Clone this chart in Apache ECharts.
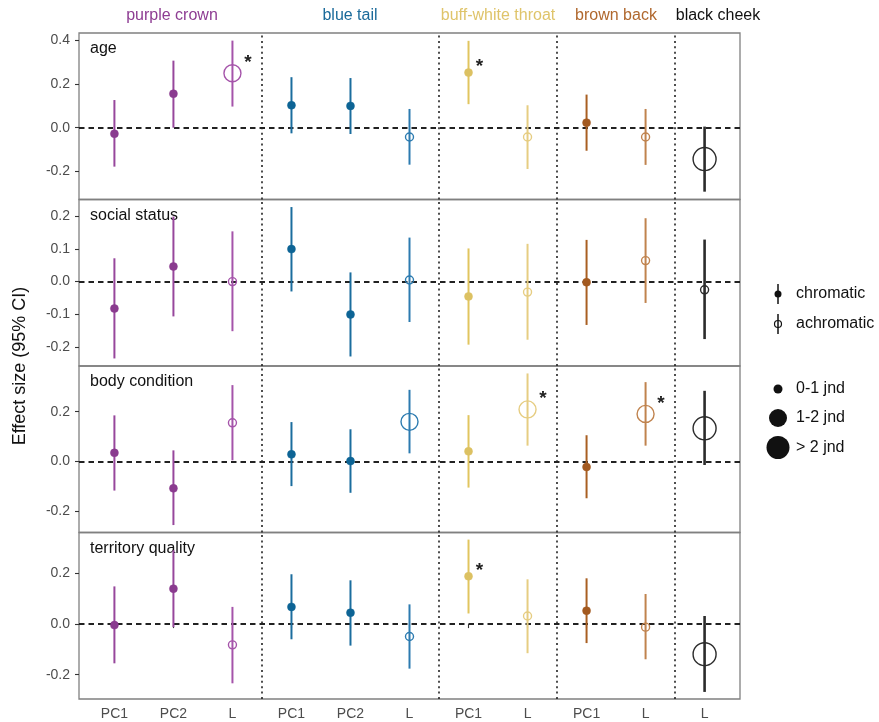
<!DOCTYPE html>
<html><head><meta charset="utf-8">
<script src="https://cdn.jsdelivr.net/npm/echarts@6/dist/echarts.min.js"></script>
<style>html,body{margin:0;padding:0;background:#fff}#c{width:879px;height:722px}</style>
</head><body><div id="c"></div>
<script>
// ---- data ----
const categories = ['PC1','PC2','L','PC1','PC2','L','PC1','L','PC1','L','L'];
const catGroup   = [0,0,0,1,1,1,2,2,3,3,4];
const achromatic = [0,0,1,0,0,1,0,1,0,1,1];
const groupNames = ['purple crown','blue tail','buff-white throat','brown back','black cheek'];
const panelNames = ['age','social status','body condition','territory quality'];
const yTicks = [[-0.2,0,0.2,0.4],[-0.2,-0.1,0,0.1,0.2],[-0.2,0,0.2],[-0.2,0,0.2]];

const ageEst = [-0.028,0.156,0.250,0.103,0.100,-0.043,0.253,-0.043,0.023,-0.043,-0.144];
const ageLo  = [-0.179,0.000,0.097,-0.026,-0.029,-0.170,0.108,-0.190,-0.106,-0.171,-0.294];
const ageHi  = [0.127,0.308,0.400,0.232,0.228,0.086,0.399,0.103,0.152,0.086,0.005];
const ageJnd = [0,0,1,0,0,0,0,0,0,0,2];
const ageSig = [0,0,1,0,0,0,1,0,0,0,0];

const socEst = [-0.082,0.046,0.000,0.099,-0.100,0.005,-0.045,-0.032,-0.002,0.064,-0.025];
const socLo  = [-0.234,-0.106,-0.151,-0.030,-0.228,-0.123,-0.192,-0.177,-0.132,-0.065,-0.175];
const socHi  = [0.071,0.198,0.153,0.227,0.028,0.134,0.101,0.115,0.127,0.193,0.128];
const socJnd = [0,0,0,0,0,0,0,0,0,0,0];
const socSig = [0,0,0,0,0,0,0,0,0,0,0];

const bodEst = [0.034,-0.109,0.155,0.028,0.001,0.159,0.040,0.209,-0.023,0.191,0.133];
const bodLo  = [-0.118,-0.257,0.004,-0.100,-0.127,0.032,-0.106,0.063,-0.149,0.063,-0.015];
const bodHi  = [0.185,0.044,0.307,0.158,0.129,0.288,0.186,0.354,0.105,0.319,0.284];
const bodJnd = [0,0,0,0,0,1,0,1,0,1,2];
const bodSig = [0,0,0,0,0,0,0,1,0,1,0];

const terEst = [-0.004,0.140,-0.082,0.068,0.045,-0.049,0.189,0.032,0.053,-0.012,-0.119];
const terLo  = [-0.155,-0.012,-0.234,-0.060,-0.085,-0.176,0.042,-0.115,-0.075,-0.139,-0.268];
const terHi  = [0.149,0.292,0.068,0.197,0.173,0.078,0.334,0.177,0.181,0.119,0.032];
const terJnd = [0,0,0,0,0,0,0,0,0,0,2];
const terSig = [0,0,0,0,0,0,1,0,0,0,0];

const separators = [3.5,6.5,8.5,10.5];
const jndLabels = ['0-1 jnd','1-2 jnd','> 2 jnd'];

// ---- styles ----
const pointColor = ['#8a3b8f','#0d6495','#dcc162','#a3591f','#262626'];
const lineColor  = ['#97479c','#1b6d9e','#e1c55f','#a95f22','#2b2b2b'];
const achColor   = ['#a554aa','#2c7bb0','#e6cd82','#c0834e','#2b2b2b'];
const stripColor = ['#8e3d93','#1a6a9a','#dfc46a','#b0682e','#111111'];
const radius = [4,8.5,11.5];
const FONT = '"Liberation Sans", Arial, sans-serif';

const panels = [
  {est:ageEst,lo:ageLo,hi:ageHi,jnd:ageJnd,sig:ageSig,min:-0.33,max:0.435},
  {est:socEst,lo:socLo,hi:socHi,jnd:socJnd,sig:socSig,min:-0.257,max:0.25},
  {est:bodEst,lo:bodLo,hi:bodHi,jnd:bodJnd,sig:bodSig,min:-0.287,max:0.384},
  {est:terEst,lo:terLo,hi:terHi,jnd:terJnd,sig:terSig,min:-0.296,max:0.362}
];
const gridTops = [33,199.5,366,532.5];
const gridH = 166.5;

const grids=[], xAxes=[], yAxes=[], series=[];
panels.forEach((p,i)=>{
  grids.push({left:79,width:661,top:gridTops[i],height:gridH,show:true,borderColor:'#808080',borderWidth:1.3,backgroundColor:'transparent'});
  const last = i===panels.length-1;
  xAxes.push({gridIndex:i,type:'value',min:0.4,max:11.6,
    axisLine:{show:false},splitLine:{show:false},
    axisTick:{show:last,customValues:categories.map((c,k)=>k+1),length:4,lineStyle:{color:'#333',width:1.1}},
    axisLabel:{show:last,customValues:categories.map((c,k)=>k+1),margin:8,color:'#4d4d4d',fontSize:14,fontFamily:FONT,
      formatter:v=>categories[Math.round(v)-1]||''}});
  yAxes.push({gridIndex:i,type:'value',min:p.min,max:p.max,
    axisLine:{show:false},splitLine:{show:false},
    axisTick:{show:true,customValues:yTicks[i],length:4,lineStyle:{color:'#333',width:1.1}},
    axisLabel:{customValues:yTicks[i],margin:9,color:'#4d4d4d',fontSize:14,fontFamily:FONT,formatter:v=>v.toFixed(1)}});
  // reference lines
  series.push({type:'line',xAxisIndex:i,yAxisIndex:i,data:[],silent:true,
    markLine:{silent:true,symbol:['none','none'],label:{show:false},animation:false,
      data:[
        {yAxis:0,lineStyle:{type:[5.5,4],width:1.8,color:'#222'}},
        ...separators.map(s=>({xAxis:s,lineStyle:{type:[2,3.4],width:1.6,color:'#222'}}))
      ]}});
  const data = categories.map((c,k)=>[k+1,p.est[k],p.lo[k],p.hi[k],p.jnd[k],p.sig[k],achromatic[k],catGroup[k]]);
  series.push({type:'custom',xAxisIndex:i,yAxisIndex:i,data:data,encode:{x:0,y:[1,2,3]},z:5,animation:false,
    renderItem:(params,api)=>{
      const x=api.value(0),est=api.value(1),lo=api.value(2),hi=api.value(3);
      const jnd=api.value(4),sig=api.value(5),ach=api.value(6),g=api.value(7);
      const pe=api.coord([x,est]),pl=api.coord([x,lo]),ph=api.coord([x,hi]);
      const r=radius[jnd];
      const lc = ach ? achColor[g] : lineColor[g];
      const lw = g===4 ? 2.6 : 2;
      const children=[
        {type:'line',shape:{x1:pl[0],y1:pl[1],x2:ph[0],y2:ph[1]},style:{stroke:lc,lineWidth:lw}},
        {type:'circle',shape:{cx:pe[0],cy:pe[1],r:r},
          style: ach ? {fill:'none',stroke:achColor[g],lineWidth:1.4} : {fill:pointColor[g],stroke:pointColor[g],lineWidth:0.5}}
      ];
      if(sig){
        children.push({type:'text',style:{text:'*',x:pe[0]+r+7,y:pe[1]-r-2,align:'center',verticalAlign:'middle',
          font:'bold 19px '+FONT,fill:'#222'}});
      }
      return {type:'group',children:children};
    }});
});

const graphics = [];
// panel labels
panelNames.forEach((n,i)=>graphics.push({type:'text',left:90,top:gridTops[i]+8,
  style:{text:n,font:'16px '+FONT,fill:'#111'}}));
// strip labels
const stripX = [172,350,498,616,718];
groupNames.forEach((n,i)=>graphics.push({type:'text',x:stripX[i],y:16,
  style:{text:n,font:'16px '+FONT,fill:stripColor[i],align:'center',verticalAlign:'middle'}}));
// y title
graphics.push({type:'text',x:20,y:366,rotation:Math.PI/2,
  style:{text:'Effect size (95% CI)',font:'18px '+FONT,fill:'#111',align:'center',verticalAlign:'middle'}});
// legend: chromatic / achromatic
const lx=778;
graphics.push({type:'line',shape:{x1:lx,y1:284,x2:lx,y2:304},style:{stroke:'#111',lineWidth:1.5}});
graphics.push({type:'circle',shape:{cx:lx,cy:294,r:3.5},style:{fill:'#111'}});
graphics.push({type:'text',x:796,y:294,style:{text:'chromatic',font:'16px '+FONT,fill:'#111',verticalAlign:'middle'}});
graphics.push({type:'line',shape:{x1:lx,y1:314,x2:lx,y2:334},style:{stroke:'#111',lineWidth:1.5}});
graphics.push({type:'circle',shape:{cx:lx,cy:324,r:3.5},style:{fill:'none',stroke:'#111',lineWidth:1.2}});
graphics.push({type:'text',x:796,y:324,style:{text:'achromatic',font:'16px '+FONT,fill:'#111',verticalAlign:'middle'}});
// legend: jnd sizes
const jy=[389,418,447.5];
const jr=[4.5,9,11.5];
jndLabels.forEach((t,i)=>{
  graphics.push({type:'circle',shape:{cx:lx,cy:jy[i],r:jr[i]},style:{fill:'#111'}});
  graphics.push({type:'text',x:796,y:jy[i],style:{text:t,font:'16px '+FONT,fill:'#111',verticalAlign:'middle'}});
});

const chart = echarts.init(document.getElementById('c'),null,{renderer:'canvas'});
chart.setOption({animation:false,grid:grids,xAxis:xAxes,yAxis:yAxes,series:series,graphic:graphics});
</script></body></html>
